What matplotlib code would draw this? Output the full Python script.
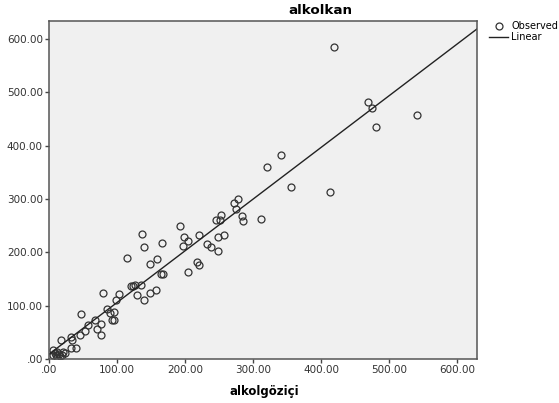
import matplotlib
matplotlib.use("Agg")
import matplotlib.pyplot as plt
from matplotlib.lines import Line2D

# ---- data ----
x_vals = [6, 9, 12, 15, 6, 19, 23, 12, 16, 10, 20,
          18, 33, 34, 32, 40, 45, 47, 53, 58, 68, 70, 76, 76, 80, 85, 89, 96, 93, 95,
          99, 103, 115, 121, 123, 126, 135, 130, 139, 149, 157, 136, 139, 148, 159,
          165, 167, 166, 193, 197, 198, 204, 205, 217, 220, 220, 232, 238, 248, 249,
          257, 245, 252, 253, 272, 275, 278, 283, 285, 312, 320, 341, 356, 413, 419,
          469, 475, 481, 541]
y_vals = [16, 11, 13, 9, 7, 7, 12, 4, 5, 8, 14,
          35, 42, 36, 20, 20, 45, 84, 53, 64, 73, 57, 66, 45, 123, 93, 86, 88, 73, 73,
          110, 122, 189, 137, 136, 138, 139, 120, 110, 123, 130, 234, 211, 178, 187,
          160, 160, 217, 250, 212, 228, 222, 164, 182, 176, 232, 215, 210, 202, 229,
          233, 260, 260, 270, 293, 282, 300, 268, 258, 263, 361, 383, 322, 314, 586,
          482, 471, 436, 457]
fit_intercept = 9.0
fit_slope = 0.97
x_ticks = [0, 100, 200, 300, 400, 500, 600]
y_ticks = [0, 100, 200, 300, 400, 500, 600]
x_tick_labels = [".00", "100.00", "200.00", "300.00", "400.00", "500.00", "600.00"]
y_tick_labels = [".00", "100.00", "200.00", "300.00", "400.00", "500.00", "600.00"]
title = "alkolkan"
x_label = "alkolgöziçi"
legend_labels = ["Observed", "Linear"]

W, H = 559, 403
fig = plt.figure(figsize=(W / 100, H / 100), dpi=100)
ax = fig.add_axes([49 / W, 1 - 359 / H, (477 - 49) / W, (359 - 21) / H])
ax.set_facecolor("#f0f0f0")

xlim = (0, 629)
ylim = (0, 634)

ax.plot(x_vals, y_vals, linestyle="none", marker="o", markersize=5,
        markerfacecolor="none", markeredgecolor="#333333", markeredgewidth=0.9)
xs = [xlim[0], xlim[1]]
ax.plot(xs, [fit_intercept + fit_slope * v for v in xs], color="#222222", lw=1.0)

ax.set_xlim(*xlim)
ax.set_ylim(*ylim)
ax.set_xticks(x_ticks)
ax.set_xticklabels(x_tick_labels)
ax.set_yticks(y_ticks)
ax.set_yticklabels(y_tick_labels)
ax.tick_params(direction="out", length=3, width=1, color="#444444",
               labelsize=7.5, labelcolor="#333333", pad=1.5)
for s in ax.spines.values():
    s.set_color("#555555")
    s.set_linewidth(1.1)

fig.text(320 / W, 1 - 11 / H, title, ha="center", va="center",
         fontsize=9.7, fontweight="bold", family="DejaVu Sans")
fig.text(264 / W, 1 - 392 / H, x_label, ha="center", va="center",
         fontsize=8.5, fontweight="bold", family="DejaVu Sans")

handles = [
    Line2D([], [], linestyle="none", marker="o", markersize=5,
           markerfacecolor="none", markeredgecolor="#333333", markeredgewidth=0.9),
    Line2D([], [], color="#222222", lw=1.0),
]
fig.legend(handles, legend_labels, loc="upper left",
           bbox_to_anchor=(489 / W, 1 - 21 / H), frameon=False,
           fontsize=7, handlelength=2.0, handletextpad=0.3,
           labelspacing=0.15, borderpad=0, borderaxespad=0)

fig.savefig("out.png", dpi=100)
